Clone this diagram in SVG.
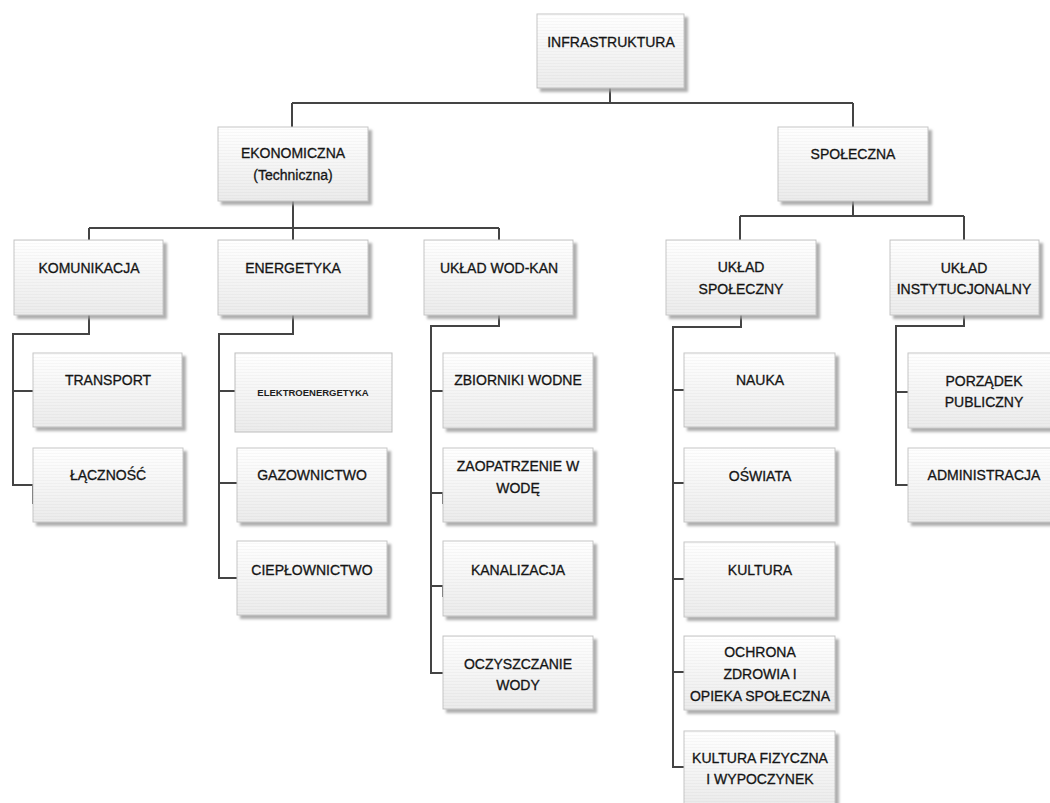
<svg xmlns="http://www.w3.org/2000/svg" width="1050" height="803" viewBox="0 0 1050 803">
<defs>
<linearGradient id="gb" x1="0" y1="0" x2="0" y2="1">
<stop offset="0" stop-color="#ffffff"/>
<stop offset="1" stop-color="#ebebeb"/>
</linearGradient>
<pattern id="stripes" width="4" height="3" patternUnits="userSpaceOnUse">
<rect width="4" height="1" fill="#000" fill-opacity="0.025"/>
</pattern>
<filter id="sh" x="-10%" y="-10%" width="130%" height="130%">
<feDropShadow dx="3.5" dy="3.5" stdDeviation="0.8" flood-color="#9a9a9a" flood-opacity="0.8"/>
</filter>
</defs>
<style>
.box{fill:url(#gb);stroke:#c6c6c6;stroke-width:1;filter:url(#sh)}
.flat{fill:url(#gb);stroke:#bdbdbd;stroke-width:1}
.tex{fill:url(#stripes);stroke:none}
.t{font-family:"Liberation Sans",Arial,sans-serif;font-size:14px;fill:#151515;stroke:#151515;stroke-width:0.3;text-anchor:middle}
.ts{font-family:"Liberation Sans",Arial,sans-serif;font-size:9.5px;font-weight:bold;fill:#1e1e1e;text-anchor:middle}
.c{fill:none;stroke:#444;stroke-width:2}
</style>
<rect width="1050" height="803" fill="#ffffff"/>
<g id="connectors">
<path class="c" d="M610,88 V103 M292,103 H853 M292,103 V127 M853,103 V127"/>
<path class="c" d="M293,201 V228 M89,228 H499 M89,228 V240 M293,228 V240 M499,228 V240"/>
<path class="c" d="M853,201 V216 M740,216 H964 M740,216 V240 M964,216 V240"/>
<path class="c" d="M89,315 V334 H13 V485 H33 V504 M13,391 H33"/>
<path class="c" d="M293,315 V334 H219 V578 H237 M219,391 H235 M219,483 H237"/>
<path class="c" d="M499,315 V326 H431 V673 H443 M431,391 H443 M431,493 H443 V504 M431,586 H443 V597"/>
<path class="c" d="M741,315 V327 H673 V767 H684 M673,390 H684 M673,483 H684 M673,579 H684 M673,672 H684"/>
<path class="c" d="M964,315 V326 H896 V485 H908 M896,392 H908"/>
</g>
<g id="n-infrastruktura"><rect class="box" x="537" y="14" width="147" height="74"/><rect class="tex" x="537" y="14" width="147" height="74"/><text class="t" x="611" y="47">INFRASTRUKTURA</text></g>
<g id="n-ekonomiczna"><rect class="box" x="218" y="127" width="150" height="74"/><rect class="tex" x="218" y="127" width="150" height="74"/><text class="t" x="293" y="158">EKONOMICZNA</text><text class="t" x="293" y="180">(Techniczna)</text></g>
<g id="n-spoleczna"><rect class="box" x="778" y="127" width="150" height="74"/><rect class="tex" x="778" y="127" width="150" height="74"/><text class="t" x="853" y="159">SPOŁECZNA</text></g>
<g id="n-komunikacja"><rect class="box" x="14" y="240" width="149" height="75"/><rect class="tex" x="14" y="240" width="149" height="75"/><text class="t" x="89" y="273">KOMUNIKACJA</text></g>
<g id="n-energetyka"><rect class="box" x="218" y="240" width="150" height="75"/><rect class="tex" x="218" y="240" width="150" height="75"/><text class="t" x="293" y="273">ENERGETYKA</text></g>
<g id="n-wodkan"><rect class="box" x="424" y="240" width="149" height="75"/><rect class="tex" x="424" y="240" width="149" height="75"/><text class="t" x="499" y="273">UKŁAD WOD-KAN</text></g>
<g id="n-ukladspoleczny"><rect class="box" x="666" y="240" width="150" height="75"/><rect class="tex" x="666" y="240" width="150" height="75"/><text class="t" x="741" y="272">UKŁAD</text><text class="t" x="741" y="294">SPOŁECZNY</text></g>
<g id="n-instytucjonalny"><rect class="box" x="890" y="240" width="149" height="75"/><rect class="tex" x="890" y="240" width="149" height="75"/><text class="t" x="964" y="273">UKŁAD</text><text class="t" x="964" y="294">INSTYTUCJONALNY</text></g>
<g id="n-transport"><rect class="box" x="33" y="353" width="149" height="74"/><rect class="tex" x="33" y="353" width="149" height="74"/><text class="t" x="108" y="385">TRANSPORT</text></g>
<g id="n-lacznosc"><rect class="box" x="33" y="448" width="150" height="74"/><rect class="tex" x="33" y="448" width="150" height="74"/><text class="t" x="108" y="480">ŁĄCZNOŚĆ</text></g>
<g id="n-elektroenergetyka"><rect class="flat" x="235" y="353" width="157" height="79"/><rect class="tex" x="235" y="353" width="157" height="79"/><text class="ts" x="313" y="396">ELEKTROENERGETYKA</text></g>
<g id="n-gazownictwo"><rect class="box" x="237" y="448" width="150" height="74"/><rect class="tex" x="237" y="448" width="150" height="74"/><text class="t" x="312" y="480">GAZOWNICTWO</text></g>
<g id="n-cieplownictwo"><rect class="box" x="237" y="541" width="150" height="74"/><rect class="tex" x="237" y="541" width="150" height="74"/><text class="t" x="312" y="575">CIEPŁOWNICTWO</text></g>
<g id="n-zbiorniki"><rect class="box" x="443" y="353" width="150" height="75"/><rect class="tex" x="443" y="353" width="150" height="75"/><text class="t" x="518" y="385">ZBIORNIKI WODNE</text></g>
<g id="n-zaopatrzenie"><rect class="box" x="443" y="448" width="150" height="74"/><rect class="tex" x="443" y="448" width="150" height="74"/><text class="t" x="518" y="471">ZAOPATRZENIE W</text><text class="t" x="518" y="493">WODĘ</text></g>
<g id="n-kanalizacja"><rect class="box" x="443" y="541" width="150" height="75"/><rect class="tex" x="443" y="541" width="150" height="75"/><text class="t" x="518" y="575">KANALIZACJA</text></g>
<g id="n-oczyszczanie"><rect class="box" x="443" y="636" width="150" height="73"/><rect class="tex" x="443" y="636" width="150" height="73"/><text class="t" x="518" y="669">OCZYSZCZANIE</text><text class="t" x="518" y="690">WODY</text></g>
<g id="n-nauka"><rect class="box" x="684" y="353" width="151" height="74"/><rect class="tex" x="684" y="353" width="151" height="74"/><text class="t" x="760" y="385">NAUKA</text></g>
<g id="n-oswiata"><rect class="box" x="684" y="448" width="151" height="74"/><rect class="tex" x="684" y="448" width="151" height="74"/><text class="t" x="760" y="481">OŚWIATA</text></g>
<g id="n-kultura"><rect class="box" x="684" y="542" width="151" height="75"/><rect class="tex" x="684" y="542" width="151" height="75"/><text class="t" x="760" y="575">KULTURA</text></g>
<g id="n-ochrona"><rect class="box" x="684" y="636" width="151" height="74"/><rect class="tex" x="684" y="636" width="151" height="74"/><text class="t" x="760" y="657">OCHRONA</text><text class="t" x="760" y="679">ZDROWIA I</text><text class="t" x="760" y="701">OPIEKA SPOŁECZNA</text></g>
<g id="n-kulturafizyczna"><rect class="box" x="684" y="731" width="151" height="74"/><rect class="tex" x="684" y="731" width="151" height="74"/><text class="t" x="760" y="763">KULTURA FIZYCZNA</text><text class="t" x="760" y="784">I WYPOCZYNEK</text></g>
<g id="n-porzadek"><rect class="box" x="908" y="353" width="150" height="75"/><rect class="tex" x="908" y="353" width="150" height="75"/><text class="t" x="984" y="386">PORZĄDEK</text><text class="t" x="984" y="407">PUBLICZNY</text></g>
<g id="n-administracja"><rect class="box" x="908" y="448" width="150" height="74"/><rect class="tex" x="908" y="448" width="150" height="74"/><text class="t" x="984" y="480">ADMINISTRACJA</text></g>
</svg>
